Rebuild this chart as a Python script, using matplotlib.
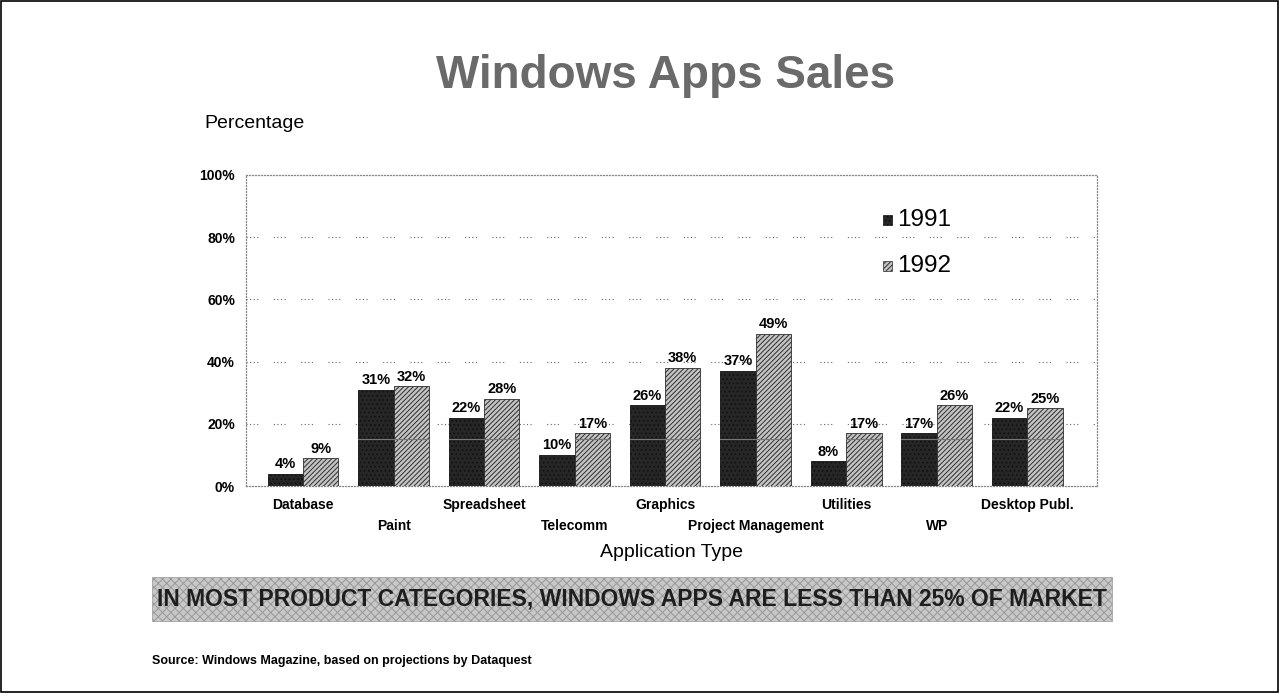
import matplotlib
matplotlib.use("Agg")
import matplotlib.pyplot as plt
from matplotlib.patches import Rectangle
import numpy as np

plt.rcParams["font.family"] = ["Liberation Sans", "DejaVu Sans"]
plt.rcParams["hatch.linewidth"] = 0.7

categories = ["Database", "Paint", "Spreadsheet", "Telecomm", "Graphics",
              "Project Management", "Utilities", "WP", "Desktop Publ."]
sales_1991 = [4, 31, 22, 10, 26, 37, 8, 17, 22]
sales_1992 = [9, 32, 28, 17, 38, 49, 17, 26, 25]
years = ["1991", "1992"]
y_ticks = [0, 20, 40, 60, 80, 100]

fig = plt.figure(figsize=(12.8, 6.93), dpi=100)
ax = fig.add_axes([0.1922, 0.2987, 0.6648, 0.4488])

x = np.arange(len(categories))
w = 0.39
b1 = ax.bar(x - w / 2, sales_1991, w, color="#262626", edgecolor="#111111",
            linewidth=0.6, hatch="....", zorder=3)
b2 = ax.bar(x + w / 2, sales_1992, w, color="#c4c4c4", edgecolor="#2e2e2e",
            linewidth=0.6, hatch="///////", zorder=3)

# faint reference line that crosses the bars
for bars in (b1, b2):
    for r in bars:
        if r.get_height() > 15:
            ax.plot([r.get_x(), r.get_x() + r.get_width()], [15, 15],
                    color="#777777", lw=0.8, zorder=4)

for bars in (b1, b2):
    for r in bars:
        ax.text(r.get_x() + r.get_width() / 2, r.get_height() + 0.8,
                f"{int(r.get_height())}%", ha="center", va="bottom",
                fontsize=10.5, fontweight="bold", zorder=5)

ax.set_xlim(-0.63, 8.77)
ax.set_ylim(0, 100)
ax.set_yticks(y_ticks)
ax.set_yticklabels([f"{v}%" for v in y_ticks], fontsize=10, fontweight="bold")
ax.tick_params(axis="y", length=0, pad=8)
ax.set_xticks(x)
ax.set_xticklabels([])
ax.tick_params(axis="x", length=0)
for i, c in enumerate(categories):
    off = -0.04 if i % 2 == 0 else -0.105
    ax.text(i, off, c, transform=ax.get_xaxis_transform(), ha="center",
            va="top", fontsize=10, fontweight="bold")

for v in y_ticks[1:-1]:
    ax.axhline(v, color="#666666", lw=0.8,
               dashes=(1, 2.2, 1, 2.2, 1, 2.2, 1, 14), zorder=1)
for s in ax.spines.values():
    s.set_linestyle((0, (0.8, 1.6)))
    s.set_color("#888888")
    s.set_linewidth(0.9)

ax.text(0.5, -0.185, "Application Type", transform=ax.transAxes, ha="center",
        va="top", fontsize=14)

# legend
for k, (yr, bars) in enumerate(zip(years, (b1, b2))):
    yy = 0.855 - k * 0.148
    ax.add_patch(Rectangle((0.748, yy - 0.017), 0.011, 0.034,
                           transform=ax.transAxes,
                           facecolor=bars[0].get_facecolor(),
                           edgecolor=bars[0].get_edgecolor(), lw=0.5,
                           hatch=bars[0].get_hatch(), clip_on=False))
    ax.text(0.765, yy, yr, transform=ax.transAxes, ha="left", va="center",
            fontsize=17.5)

fig.text(0.52, 0.890, "Windows Apps Sales", ha="center", va="center",
         fontsize=33, fontweight="bold", color="#6a6a6a")
fig.text(0.16, 0.822, "Percentage", ha="left", va="center", fontsize=14)

# banner
fig.patches.append(Rectangle((0.119, 0.104), 0.75, 0.063,
                             transform=fig.transFigure, facecolor="#c8c8c8",
                             edgecolor="#999999", hatch="xxxx", lw=0.5,
                             zorder=1))
fig.text(0.494, 0.135,
         "IN MOST PRODUCT CATEGORIES, WINDOWS APPS ARE LESS THAN 25% OF MARKET",
         ha="center", va="center", fontsize=16.5, fontweight="bold",
         color="#1e1e1e", zorder=3)
fig.text(0.119, 0.046, "Source: Windows Magazine, based on projections by Dataquest",
         ha="left", va="center", fontsize=9, fontweight="bold")

fig.patches.append(Rectangle((0.0005, 0.001), 0.998, 0.998,
                             transform=fig.transFigure, fill=False,
                             edgecolor="black", lw=1.2))

fig.savefig("out.png", dpi=100)
